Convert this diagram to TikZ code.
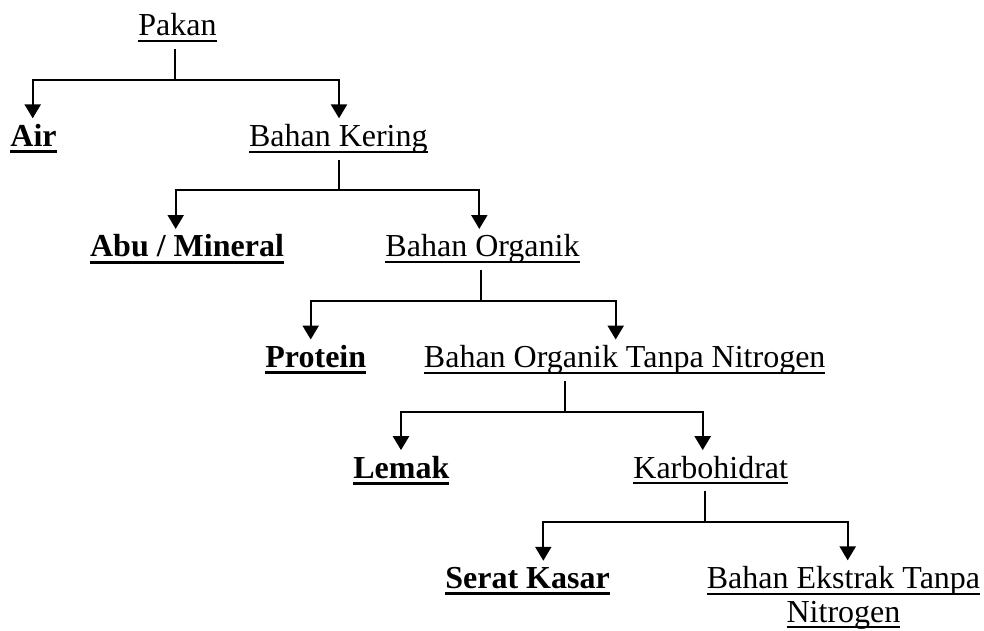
\documentclass[tikz,border=0pt]{standalone}
\usepackage{fontspec}
\setmainfont{Liberation Serif}
\usetikzlibrary{arrows.meta}
% soulignement (epaisseur en option)
\newcommand\souligne[2][0.75pt]{\setbox0\hbox{#2}\rlap{\vrule height \dimexpr-1.95pt+#1/2\relax depth \dimexpr1.95pt+#1/2\relax width \wd0}\box0}
\begin{document}
\begin{tikzpicture}[x=0.375pt,y=-0.375pt]
		% Styles
		\tikzstyle{corne}=[-,line width=0.75pt]
		\tikzstyle{fleche}=[->,>={Triangle[length=5.2pt,width=6pt]},line width=0.75pt]
		\tikzstyle{tete}=[font=\fontsize{12pt}{12.5pt}\selectfont,inner sep=0pt,text height=10.3pt,text depth=4.8pt,anchor=base]
		\tikzstyle{feuille}=[tete,font=\fontsize{12pt}{12.5pt}\selectfont\bfseries]
		\tikzstyle{deuxlignes}=[tete,align=center,text height={},text depth={},inner ysep=2.1pt]
		\useasboundingbox (0,0) rectangle (984,630);
		% Dimensions
		\def\DistanceInterNiveaux{110.6}
		\def\Fourche{44}
		\def\Interligne{33.3}
		\def\NiveauA{35.7+(0)*\DistanceInterNiveaux}
		\def\NiveauB{35.7+(1)*\DistanceInterNiveaux}
		\def\NiveauC{35.7+(2)*\DistanceInterNiveaux}
		\def\NiveauD{35.7+(3)*\DistanceInterNiveaux}
		\def\NiveauE{35.7+(4)*\DistanceInterNiveaux}
		\def\NiveauF{35.7+(5)*\DistanceInterNiveaux}
		% Noeuds
		\node[tete] (Pk) at ({177.5},{\NiveauA}) {\souligne{Pakan}};
		\node[feuille] (Air) at ({33.5},{\NiveauB}) {\souligne[1.15pt]{Air}};
		\node[tete] (BK) at ({338.3},{\NiveauB}) {\souligne{Bahan Kering}};
		\node[feuille] (Abu) at ({187},{\NiveauC}) {\souligne[1.15pt]{Abu / Mineral}};
		\node[tete] (BO) at ({482.5},{\NiveauC}) {\souligne{Bahan Organik}};
		\node[feuille] (Pr) at ({315.8},{\NiveauD}) {\souligne[1.15pt]{Protein}};
		\node[tete] (BOTN) at ({624.7},{\NiveauD}) {\souligne{Bahan Organik Tanpa Nitrogen}};
		\node[feuille] (Lm) at ({401.3},{\NiveauE}) {\souligne[1.15pt]{Lemak}};
		\node[tete] (KH) at ({710.7},{\NiveauE}) {\souligne{Karbohidrat}};
		\node[feuille] (SK) at ({527.5},{\NiveauF}) {\souligne[1.15pt]{Serat Kasar}};
		\node[deuxlignes] (BETN) at ({843.5},{\NiveauF+\Interligne}) {\souligne{Bahan Ekstrak Tanpa}\\\souligne{Nitrogen}};
		% Fourches
		\coordinate (fPk) at ({175},{\NiveauA+\Fourche});
		\coordinate (fBK) at ({339.3},{\NiveauB+\Fourche});
		\coordinate (fBO) at ({481},{\NiveauC+\Fourche});
		\coordinate (fBOTN) at ({565},{\NiveauD+\Fourche});
		\coordinate (fKH) at ({705},{\NiveauE+\Fourche});
		% Arcs
		\draw[corne] (Pk.south -| fPk) -- (fPk);
		\draw[fleche] (fPk) -| (Air.north -| 32.7,0);
		\draw[fleche] (fPk) -| (BK.north -| 339,0);
		\draw[corne] (BK.south -| fBK) -- (fBK);
		\draw[fleche] (fBK) -| (Abu.north -| 175.7,0);
		\draw[fleche] (fBK) -| (BO.north -| 479.3,0);
		\draw[corne] (BO.south -| fBO) -- (fBO);
		\draw[fleche] (fBO) -| (Pr.north -| 310.7,0);
		\draw[fleche] (fBO) -| (BOTN.north -| 615.7,0);
		\draw[corne] (BOTN.south -| fBOTN) -- (fBOTN);
		\draw[fleche] (fBOTN) -| (Lm.north -| 401,0);
		\draw[fleche] (fBOTN) -| (KH.north -| 702.7,0);
		\draw[corne] (KH.south -| fKH) -- (fKH);
		\draw[fleche] (fKH) -| (SK.north -| 543.3,0);
		\draw[fleche] (fKH) -| (BETN.north -| 847.7,0);
\end{tikzpicture}
\end{document}
